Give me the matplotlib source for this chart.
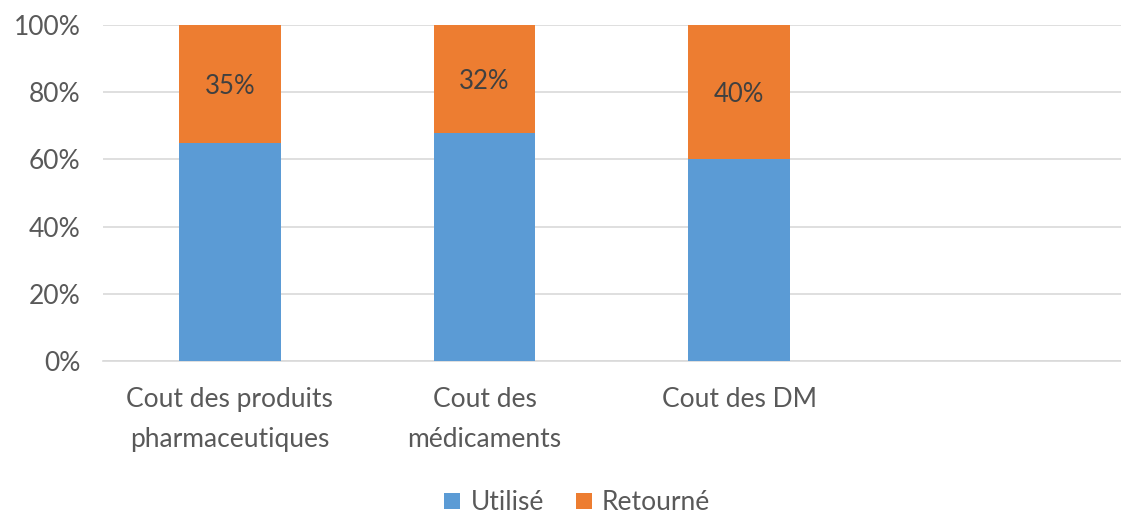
import numpy as np
import matplotlib.pyplot as plt
from matplotlib.ticker import PercentFormatter

plt.rcParams['font.family'] = ['Lato', 'DejaVu Sans']

# data
categories = ['Cout des produits\npharmaceutiques', 'Cout des\nmédicaments', 'Cout des DM', '']
utilise = [65, 68, 60, 0]
retourne = [35, 32, 40, 0]
series_names = ['Utilisé', 'Retourné']

blue = '#5b9bd5'
orange = '#ed7d31'
txt = '#595959'

fig = plt.figure(figsize=(11.21, 5.13), dpi=100)
ax = fig.add_axes([0.0915, 0.2963, 0.9085, 0.655])

x = np.arange(len(categories))
b1 = ax.bar(x, utilise, 0.4, color=blue, label=series_names[0], zorder=3)
b2 = ax.bar(x, retourne, 0.4, bottom=utilise, color=orange, label=series_names[1], zorder=3)

# labels on orange part
for xi, u, r in zip(x, utilise, retourne):
    if r > 0:
        ax.text(xi, u + r / 2, f'{r}%', ha='center', va='center_baseline',
                fontsize=18.5, color='#404040', zorder=4)

ax.set_xlim(-0.5, 3.5)
ax.set_ylim(0, 100)
ax.set_yticks(range(0, 101, 20))
ax.yaxis.set_major_formatter(PercentFormatter(decimals=0))
ax.set_xticks(x)
ax.set_xticklabels(categories, linespacing=1.75)
ax.tick_params(axis='both', length=0, labelsize=19, colors=txt)
ax.tick_params(axis='x', pad=19)
ax.tick_params(axis='y', pad=16)
ax.grid(axis='y', color='#d9d9d9', linewidth=1.2, zorder=0)
for s in ['top', 'left', 'right']:
    ax.spines[s].set_visible(False)
ax.spines['bottom'].set_color('#d9d9d9')
ax.spines['bottom'].set_linewidth(1.2)

leg = fig.legend(handles=[b1, b2], labels=series_names, loc='center',
                 bbox_to_anchor=(0.515, 0.02), ncol=2, frameon=False,
                 fontsize=19, handlelength=0.6, handleheight=0.6,
                 handletextpad=0.4, columnspacing=1.2)
for t in leg.get_texts():
    t.set_color(txt)

fig.savefig('out.png', dpi=100)
